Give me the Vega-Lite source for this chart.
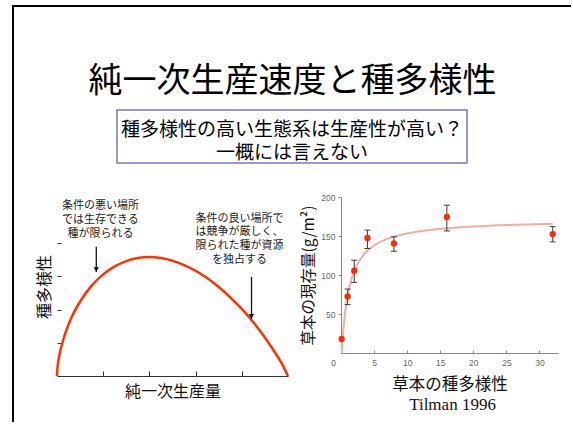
{
  "$schema": "https://vega.github.io/schema/vega-lite/v6.json",
  "background": "white",
  "padding": {"left": 11, "top": 4, "right": 0, "bottom": 0},
  "columns": 2,
  "align": "each",
  "bounds": "flush",
  "spacing": {"row": 34, "column": 53},
  "config": {
    "view": {"stroke": null},
    "font": "Noto Sans CJK JP",
    "axis": {"grid": false},
    "text": {"font": "Noto Sans CJK JP"}
  },
  "datasets": {
    "arrows": [
      {"x": 0.85, "y": 3.13, "ytop": 3.89},
      {"x": 4.21, "y": 1.72, "ytop": 2.98}
    ],
    "biomass": [
      {"x": 0.1, "y": 18, "lo": null, "hi": null},
      {"x": 1, "y": 72.5, "lo": 62, "hi": 82},
      {"x": 2, "y": 105.5, "lo": 90.5, "hi": 119},
      {"x": 4, "y": 147.5, "lo": 134, "hi": 157.5},
      {"x": 8, "y": 140.5, "lo": 130.5, "hi": 149},
      {"x": 16, "y": 174.5, "lo": 156.5, "hi": 189.5},
      {"x": 32, "y": 152.5, "lo": 142.5, "hi": 162}
    ]
  },
  "concat": [
    {
      "width": 231,
      "height": 53,
      "data": {"values": [{"title": "純一次生産速度と種多様性", "note": "種多様性の高い生態系は生産性が高い？\n一概には言えない"}]},
      "layer": [
        {
          "mark": {"type": "rule", "color": "black", "strokeWidth": 2, "strokeCap": "square"},
          "encoding": {
            "x": {"datum": -0.19048, "type": "quantitative", "scale": {"domain": [0, 1], "nice": false, "zero": false}, "axis": null},
            "x2": {"datum": 2.2208},
            "y": {"datum": 2.9623, "type": "quantitative", "scale": {"domain": [0, 1], "nice": false, "zero": false}, "axis": null}
          }
        },
        {
          "mark": {"type": "rule", "color": "black", "strokeWidth": 2, "strokeCap": "square"},
          "encoding": {
            "x": {"datum": -0.19048, "type": "quantitative", "axis": null},
            "y": {"datum": 2.9623, "type": "quantitative", "axis": null},
            "y2": {"datum": -4.8679}
          }
        },
        {
          "mark": {"type": "rect", "fill": null, "fillOpacity": 0, "stroke": "#7878c0", "strokeWidth": 1.5},
          "encoding": {
            "x": {"datum": 0.2597, "type": "quantitative", "axis": null},
            "x2": {"datum": 1.7749},
            "y": {"datum": 0, "type": "quantitative", "axis": null},
            "y2": {"datum": 1}
          }
        },
        {
          "mark": {"type": "text", "fontSize": 34, "align": "center", "baseline": "middle", "color": "black"},
          "encoding": {
            "x": {"datum": 1.0195, "type": "quantitative", "axis": null},
            "y": {"datum": 1.528, "type": "quantitative", "axis": null},
            "text": {"field": "title"}
          }
        },
        {
          "mark": {"type": "text", "fontSize": 19, "lineBreak": "\n", "lineHeight": 23, "align": "center", "baseline": "middle", "color": "black"},
          "encoding": {
            "x": {"datum": 1.0173, "type": "quantitative", "axis": null},
            "y": {"datum": 0.632, "type": "quantitative", "axis": null},
            "text": {"field": "note"}
          }
        }
      ]
    },
    {
      "width": 10,
      "height": 53,
      "data": {"values": []},
      "mark": {"type": "text"},
      "encoding": {}
    },
    {
      "width": 231,
      "height": 179,
      "encoding": {
        "x": {
          "field": "x", "type": "quantitative",
          "scale": {"domain": [0, 5], "nice": false, "zero": false},
          "axis": {"values": [1, 2, 3, 4], "labels": false, "tickSize": -5, "tickColor": "#333", "domainColor": "#333", "tickWidth": 1, "domainWidth": 1, "title": "純一次生産量", "titleFont": "Noto Sans CJK JP", "titleFontSize": 16, "titleFontWeight": "normal", "titleColor": "#111", "titlePadding": 7}
        },
        "y": {
          "field": "y", "type": "quantitative",
          "scale": {"domain": [0, 5.39], "nice": false, "zero": false},
          "axis": {"values": [1, 2, 3, 4], "labels": false, "domain": false, "tickSize": -4, "tickColor": "#333", "tickWidth": 1, "title": "種多様性", "titleFont": "Noto Sans CJK JP", "titleFontSize": 16, "titleFontWeight": "normal", "titleColor": "#111", "titlePadding": 4}
        }
      },
      "layer": [
        {
          "data": {"values": [{}]},
          "mark": {"type": "rule", "color": "#333", "strokeWidth": 1},
          "encoding": {
            "x": {"datum": 0, "type": "quantitative"},
            "y": {"datum": 0, "type": "quantitative"},
            "y2": {"datum": 5}
          }
        },
        {
          "data": {"values": [
            {"x": 0, "y": 0}, {"x": 0.01, "y": 0.24}, {"x": 0.05, "y": 0.61}, {"x": 0.15, "y": 1.16},
            {"x": 0.3, "y": 1.72}, {"x": 0.5, "y": 2.24}, {"x": 0.75, "y": 2.72}, {"x": 1, "y": 3.06},
            {"x": 1.25, "y": 3.3}, {"x": 1.5, "y": 3.46}, {"x": 1.75, "y": 3.55}, {"x": 2, "y": 3.58},
            {"x": 2.25, "y": 3.55}, {"x": 2.5, "y": 3.47}, {"x": 2.75, "y": 3.34}, {"x": 3, "y": 3.17},
            {"x": 3.25, "y": 2.95}, {"x": 3.5, "y": 2.68}, {"x": 3.75, "y": 2.37}, {"x": 4, "y": 2.02},
            {"x": 4.25, "y": 1.62}, {"x": 4.5, "y": 1.16}, {"x": 4.75, "y": 0.64}, {"x": 4.9, "y": 0.29},
            {"x": 5, "y": 0}
          ]},
          "mark": {"type": "line", "color": "#ff3300", "strokeWidth": 2.5, "interpolate": "monotone"}
        },
        {
          "data": {"name": "arrows"},
          "mark": {"type": "rule", "color": "#111", "strokeWidth": 1.3},
          "encoding": {"y2": {"field": "ytop"}}
        },
        {
          "data": {"name": "arrows"},
          "mark": {"type": "point", "shape": "triangle-down", "filled": true, "color": "#111", "size": 28, "opacity": 1, "yOffset": -2.5}
        },
        {
          "data": {"values": [
            {"x": 0.94, "y": 5.104, "label": "条件の悪い場所\nでは生存できる\n種が限られる"},
            {"x": 3.95, "y": 4.737, "label": "条件の良い場所で\nは競争が厳しく、\n限られた種が資源\nを独占する"}
          ]},
          "mark": {"type": "text", "fontSize": 11, "lineBreak": "\n", "lineHeight": 13.8, "color": "#222", "align": "center", "baseline": "middle"},
          "encoding": {"text": {"field": "label"}}
        }
      ]
    },
    {
      "width": 217,
      "height": 156,
      "title": {"text": "Tilman 1996", "orient": "bottom", "anchor": "middle", "frame": "group", "font": "Liberation Serif", "fontSize": 17, "fontWeight": "normal", "color": "#111", "offset": 4, "dx": 3},
      "encoding": {
        "x": {
          "field": "x", "type": "quantitative",
          "scale": {"domain": [0, 32.8], "nice": false, "zero": false},
          "axis": {"values": [0, 5, 10, 15, 20, 25, 30], "tickSize": -3, "labelFlush": false, "labelFont": "Liberation Sans", "labelFontSize": 8.5, "labelColor": "#666", "labelPadding": 8, "labelOffset": {"condition": {"test": "datum.value === 0", "value": -8}, "value": 0}, "domainColor": "#888", "tickColor": "#888", "title": "草本の種多様性", "titleFont": "Noto Sans CJK JP", "titleFontSize": 16.5, "titleFontWeight": "normal", "titleColor": "#111", "titlePadding": 10}
        },
        "y": {
          "field": "y", "type": "quantitative",
          "scale": {"domain": [0, 200], "nice": false, "zero": false},
          "axis": {"values": [50, 100, 150, 200], "tickSize": 3, "labelFont": "Liberation Sans", "labelFontSize": 8.5, "labelColor": "#666", "labelPadding": 3, "domainColor": "#888", "tickColor": "#888", "title": "草本の現存量(g/m²)", "titleFont": "Noto Sans CJK JP", "titleFontSize": 15.5, "titleFontWeight": "normal", "titleColor": "#111", "titlePadding": 4}
        }
      },
      "layer": [
        {
          "data": {"values": [
            {"x": 0.1, "y": 0}, {"x": 0.2, "y": 13.1}, {"x": 0.35, "y": 29.5}, {"x": 0.5, "y": 42.7},
            {"x": 0.75, "y": 60.1}, {"x": 1, "y": 73.4}, {"x": 1.5, "y": 92.3}, {"x": 2, "y": 105.1},
            {"x": 2.5, "y": 114.3}, {"x": 3, "y": 121.4}, {"x": 4, "y": 131.3}, {"x": 5, "y": 137.9},
            {"x": 6, "y": 142.7}, {"x": 8, "y": 149.2}, {"x": 10, "y": 153.3}, {"x": 12, "y": 156.1},
            {"x": 16, "y": 159.8}, {"x": 20, "y": 162.1}, {"x": 24, "y": 163.7}, {"x": 28, "y": 164.9},
            {"x": 32, "y": 165.7}
          ]},
          "mark": {"type": "line", "color": "#f6ad9e", "strokeWidth": 2, "interpolate": "monotone"}
        },
        {
          "data": {"name": "biomass"},
          "mark": {"type": "rule", "color": "#3a3a3a", "strokeWidth": 1},
          "encoding": {"y": {"field": "lo", "type": "quantitative"}, "y2": {"field": "hi"}}
        },
        {
          "data": {"name": "biomass"},
          "mark": {"type": "tick", "orient": "horizontal", "size": 6, "thickness": 1, "color": "#3a3a3a", "opacity": 1},
          "encoding": {"y": {"field": "lo", "type": "quantitative"}}
        },
        {
          "data": {"name": "biomass"},
          "mark": {"type": "tick", "orient": "horizontal", "size": 6, "thickness": 1, "color": "#3a3a3a", "opacity": 1},
          "encoding": {"y": {"field": "hi", "type": "quantitative"}}
        },
        {
          "data": {"name": "biomass"},
          "mark": {"type": "circle", "color": "#ff2a00", "size": 40, "opacity": 1}
        }
      ]
    }
  ]
}
